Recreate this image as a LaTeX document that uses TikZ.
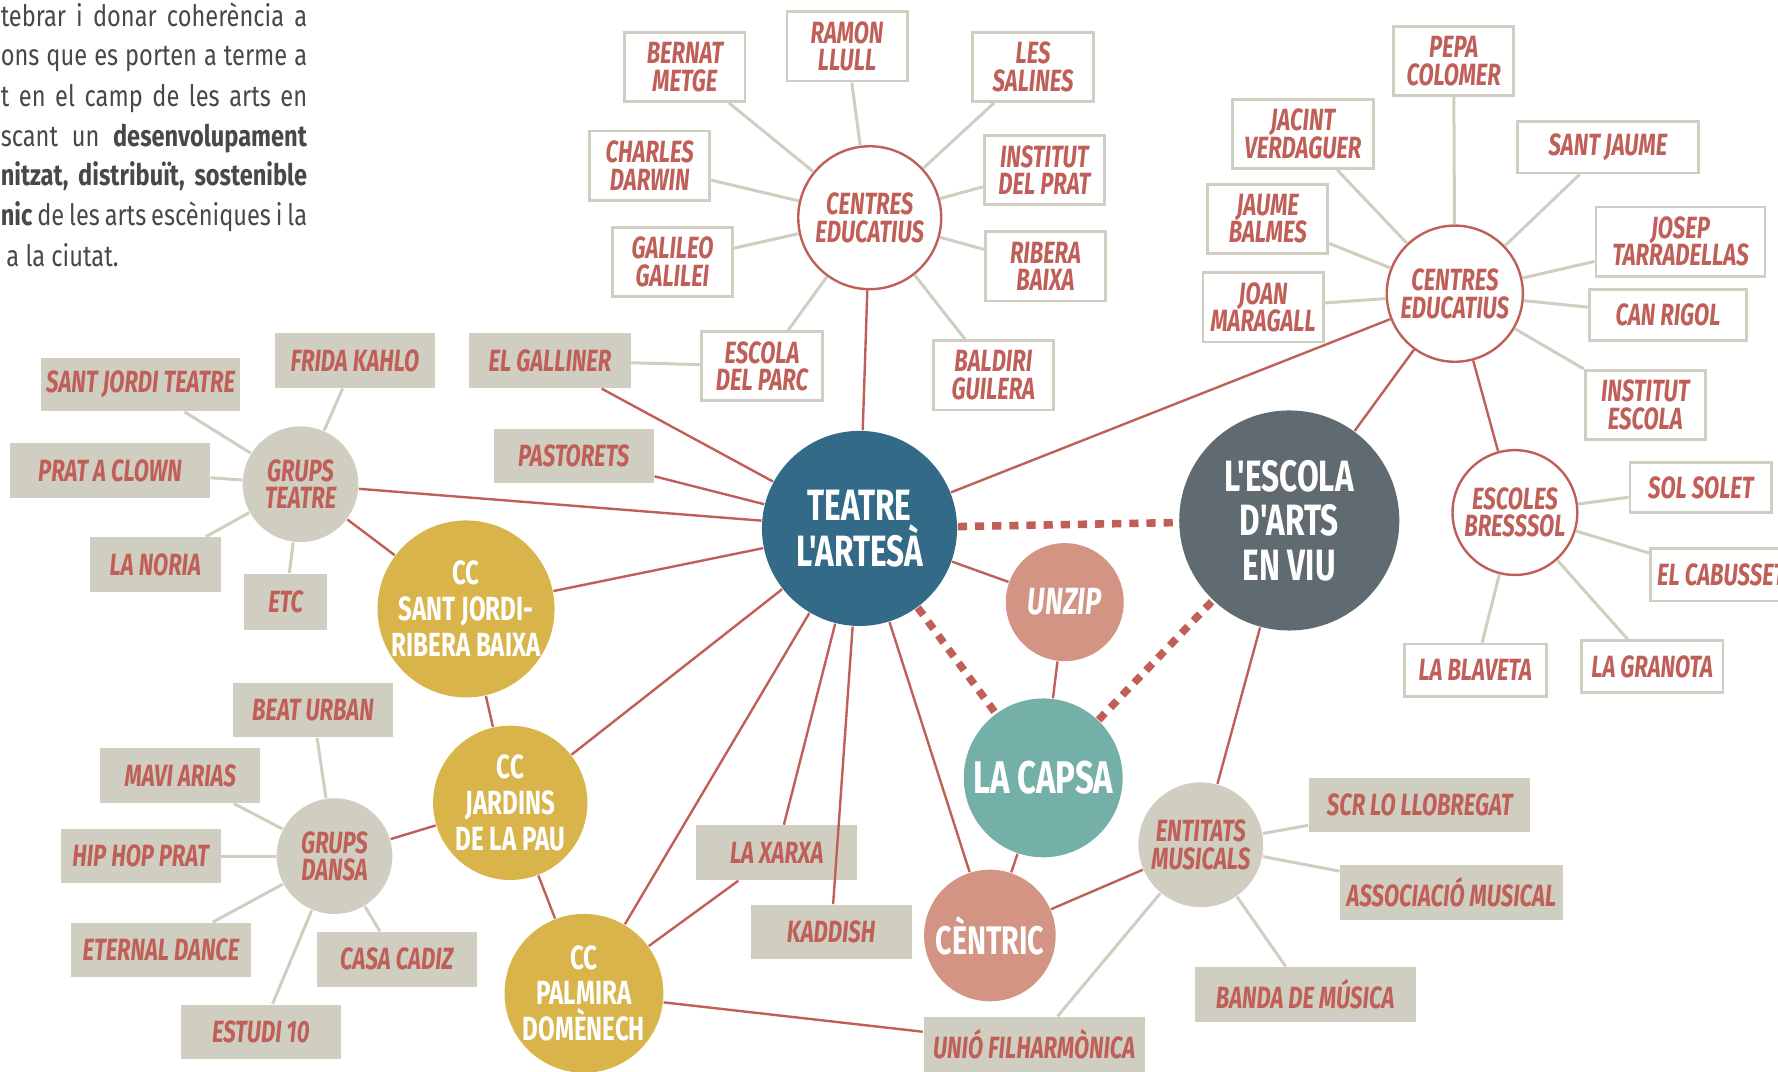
\documentclass[tikz,border=0pt]{standalone}
\usepackage{fontspec}
\newfontfamily\barfont[FakeStretch=0.72]{Fira Sans}
\newfontfamily\introfont[FakeStretch=0.8]{Fira Sans}
\usetikzlibrary{positioning}

\definecolor{redx}{RGB}{192,94,88}
\definecolor{beige}{RGB}{207,206,192}
\definecolor{teatreblue}{RGB}{51,106,135}
\definecolor{slate}{RGB}{95,107,112}
\definecolor{salmon}{RGB}{211,148,131}
\definecolor{teal}{RGB}{116,176,168}
\definecolor{mustard}{RGB}{217,180,74}
\definecolor{bodygray}{RGB}{72,72,72}

\newcommand\lbl{\barfont\bfseries\itshape\fontsize{7.7pt}{6.9pt}\selectfont}
\newcommand\bodyf{\introfont\fontsize{7.4pt}{9pt}\selectfont}

\begin{document}
\begin{tikzpicture}
[x=0.01cm, y=-0.01cm,
school/.style={rectangle, draw=beige, line width=0.7pt, fill=white, inner sep=1pt,
  minimum width=1.06cm, minimum height=0.61cm, font=\lbl, text=redx, align=center},
group/.style={rectangle, fill=beige, inner sep=1pt, minimum width=1.41cm,
  minimum height=0.48cm, font=\lbl, text=redx, align=center},
hub/.style={circle, draw=redx, line width=0.6pt, fill=white, inner sep=0pt,
  font=\lbl, text=redx, align=center},
ghub/.style={circle, fill=beige, inner sep=0pt, font=\lbl, text=redx, align=center},
big/.style={circle, inner sep=0pt, text=white, align=center},
tie/.style={draw=beige, line width=0.75pt},
link/.style={draw=redx, line width=0.6pt},
dots/.style={draw=redx, line width=1.9pt, dash pattern=on 2.3pt off 2pt}]

\useasboundingbox (0,0) rectangle (1568,945);

% intro text
\begin{scope}[every node/.style={anchor=base west, inner sep=0pt, text=bodygray, font=\bodyf}]
\node (t1) at (0,23) {\makebox[2.70cm][s]{tebrar i donar coherència a}};
\node (t2) at (0,58) {\makebox[2.70cm][s]{ons que es porten a terme a}};
\node (t3) at (0,94) {\makebox[2.70cm][s]{t en el camp de les arts en}};
\node (t4) at (0,129) {\makebox[2.70cm][s]{scant un \textbf{desenvolupament}}};
\node (t5) at (0,164) {\makebox[2.70cm][s]{\textbf{nitzat, distribuït, sostenible}}};
\node (t6) at (0,199) {\makebox[2.70cm][s]{\textbf{nic} de les arts escèniques i la}};
\node (t7) at (5,235) {a la ciutat.};
\end{scope}

% centres educatius (left)
\node[hub, minimum size=1.26cm] (ce1) at (767,192) {CENTRES\\EDUCATIUS};
\node[school] (bernat) at (604,59) {BERNAT\\METGE};
\node[school] (ramon) at (747,41) {RAMON\\LLULL};
\node[school] (salines) at (911,59) {LES\\SALINES};
\node[school] (darwin) at (573,146) {CHARLES\\DARWIN};
\node[school] (prat) at (921,150) {INSTITUT\\DEL PRAT};
\node[school] (galileo) at (593,231) {GALILEO\\GALILEI};
\node[school] (ribera) at (922,235) {RIBERA\\BAIXA};
\node[school] (parc) at (672,323) {ESCOLA\\DEL PARC};
\node[school] (baldiri) at (876,331) {BALDIRI\\GUILERA};

% centres educatius (right)
\node[hub, minimum size=1.20cm] (ce2) at (1283,259) {CENTRES\\EDUCATIUS};
\node[school] (pepa) at (1282,54) {PEPA\\COLOMER};
\node[school, minimum width=1.24cm] (jacint) at (1149,118) {JACINT\\VERDAGUER};
\node[school, minimum width=1.59cm, minimum height=0.45cm] (santjaume) at (1418,130) {SANT JAUME};
\node[school] (balmes) at (1118,193) {JAUME\\BALMES};
\node[school, minimum width=1.49cm] (tarradellas) at (1482,213) {JOSEP\\TARRADELLAS};
\node[school] (maragall) at (1114,271) {JOAN\\MARAGALL};
\node[school, minimum width=1.39cm, minimum height=0.45cm] (canrigol) at (1471,278) {CAN RIGOL};
\node[school] (insescola) at (1451,357) {INSTITUT\\ESCOLA};

% escoles bressol
\node[hub, minimum size=1.10cm] (bressol) at (1336,452) {ESCOLES\\BRESSSOL};
\node[school, minimum width=1.25cm, minimum height=0.44cm] (solet) at (1500,430) {SOL SOLET};
\node[school, minimum width=1.25cm, minimum height=0.46cm] (cabusset) at (1518,507) {EL CABUSSET};
\node[school, minimum width=1.25cm, minimum height=0.46cm] (blaveta) at (1301,591) {LA BLAVETA};
\node[school, minimum width=1.25cm, minimum height=0.46cm] (granota) at (1457,588) {LA GRANOTA};

% main circles
\node[big, fill=teatreblue, minimum size=1.72cm, font=\barfont\bfseries\fontsize{11pt}{10.3pt}\selectfont] (teatre) at (758,466) {TEATRE\\L'ARTESÀ};
\node[big, fill=slate, minimum size=1.94cm, font=\barfont\bfseries\fontsize{11pt}{11.2pt}\selectfont] (escola) at (1137,459) {L'ESCOLA\\D'ARTS\\EN VIU};
\node[big, fill=salmon, minimum size=1.04cm, font=\barfont\bfseries\itshape\fontsize{9.5pt}{9.5pt}\selectfont] (unzip) at (939,531) {UNZIP};
\node[big, fill=teal, minimum size=1.40cm, font=\barfont\bfseries\fontsize{11.5pt}{11.5pt}\selectfont] (capsa) at (920,686) {LA CAPSA};
\node[big, fill=salmon, minimum size=1.16cm, font=\barfont\bfseries\fontsize{10pt}{10pt}\selectfont] (centric) at (873,825) {CÈNTRIC};
\node[ghub, minimum size=1.10cm] (entitats) at (1059,745) {ENTITATS\\MUSICALS};

% grups teatre
\node[ghub, minimum size=1.02cm] (gteatre) at (265,427) {GRUPS\\TEATRE};
\node[group, minimum width=1.76cm, minimum height=0.47cm] (sjteatre) at (124,339) {SANT JORDI TEATRE};
\node[group] (frida) at (313,318) {FRIDA KAHLO};
\node[group, minimum width=1.76cm] (clown) at (97,415) {PRAT A CLOWN};
\node[group, minimum width=1.16cm] (noria) at (137,498) {LA NORIA};
\node[group, minimum width=0.73cm, minimum height=0.5cm] (etc) at (252,531) {ETC};
\node[group, minimum width=1.42cm] (galliner) at (485,318) {EL GALLINER};
\node[group] (pastorets) at (506,402) {PASTORETS};

% centres civics
\node[big, fill=mustard, minimum size=1.56cm, font=\barfont\bfseries\fontsize{8.4pt}{9pt}\selectfont] (ccsj) at (411,537) {CC\\SANT JORDI-\\RIBERA BAIXA};
\node[big, fill=mustard, minimum size=1.36cm, font=\barfont\bfseries\fontsize{8.4pt}{9pt}\selectfont] (ccjp) at (450,708) {CC\\JARDINS\\DE LA PAU};
\node[big, fill=mustard, minimum size=1.40cm, font=\barfont\bfseries\fontsize{8.4pt}{9pt}\selectfont] (ccpd) at (515,876) {CC\\PALMIRA\\DOMÈNECH};

% grups dansa
\node[ghub, minimum size=1.02cm] (gdansa) at (295,755) {GRUPS\\DANSA};
\node[group] (beat) at (276,626) {BEAT URBAN};
\node[group] (mavi) at (159,684) {MAVI ARIAS};
\node[group] (hiphop) at (124,755) {HIP HOP PRAT};
\node[group, minimum width=1.58cm] (eternal) at (142,838) {ETERNAL DANCE};
\node[group] (cadiz) at (350,846) {CASA CADIZ};
\node[group] (estudi) at (230,910) {ESTUDI 10};

% others
\node[group, minimum width=1.42cm] (xarxa) at (685,752) {LA XARXA};
\node[group, minimum width=1.42cm] (kaddish) at (733,822) {KADDISH};
\node[group, minimum width=1.95cm] (unio) at (912,921) {UNIÓ FILHARMÒNICA};
\node[group, minimum width=1.95cm] (scr) at (1252,710) {SCR LO LLOBREGAT};
\node[group, minimum width=1.96cm] (assoc) at (1280,787) {ASSOCIACIÓ MUSICAL};
\node[group, minimum width=1.95cm] (banda) at (1151,877) {BANDA DE MÚSICA};

% thin grey ties
\foreach \n in {bernat,ramon,salines,darwin,prat,galileo,ribera,parc,baldiri}
  \draw[tie] (ce1) -- (\n);
\foreach \n in {pepa,jacint,santjaume,balmes,tarradellas,maragall,canrigol,insescola}
  \draw[tie] (ce2) -- (\n);
\foreach \n in {solet,cabusset,blaveta,granota}
  \draw[tie] (bressol) -- (\n);
\foreach \n in {sjteatre,frida,clown,noria,etc}
  \draw[tie] (gteatre) -- (\n);
\foreach \n in {beat,mavi,hiphop,eternal,cadiz,estudi}
  \draw[tie] (gdansa) -- (\n);
\foreach \n in {scr,assoc,banda,unio}
  \draw[tie] (entitats) -- (\n);
\draw[tie] (galliner) -- (parc);

% red links
\foreach \n in {ce1,ce2,galliner,pastorets,gteatre,ccsj,ccjp,ccpd,xarxa,kaddish,centric,unzip}
  \draw[link] (teatre) -- (\n);
\draw[link] (gteatre) -- (ccsj);
\draw[link] (ccsj) -- (ccjp);
\draw[link] (ccjp) -- (ccpd);
\draw[link] (ccjp) -- (gdansa);
\draw[link] (ccpd) -- (xarxa);
\draw[link] (ccpd) -- (unio);
\draw[link] (unzip) -- (capsa);
\draw[link] (capsa) -- (centric);
\draw[link] (centric) -- (entitats);
\draw[link] (escola) -- (entitats);
\draw[link] (ce2) -- (escola);
\draw[link] (ce2) -- (bressol);

% dotted links
\draw[dots] (teatre) -- (escola);
\draw[dots] (teatre) -- (capsa);
\draw[dots] (capsa) -- (escola);

\end{tikzpicture}
\end{document}
